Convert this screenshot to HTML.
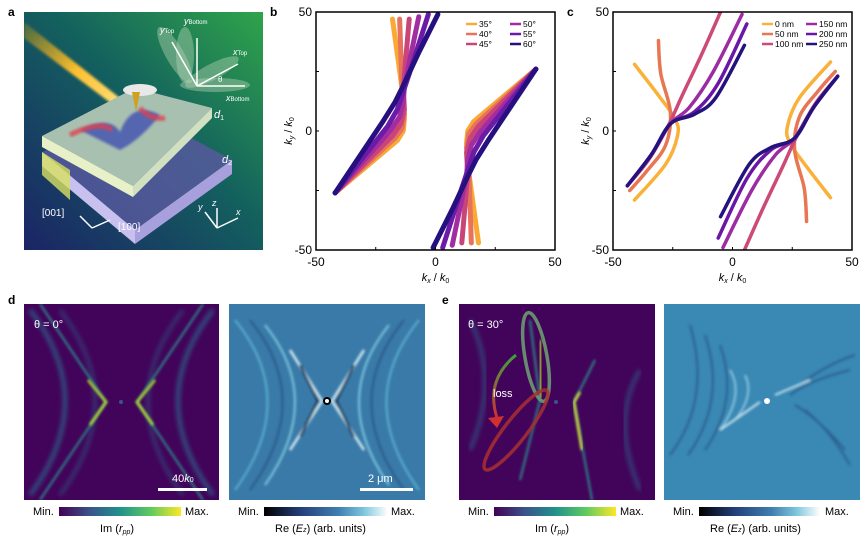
<!DOCTYPE html>
<html><head><meta charset="utf-8"><style>
body{margin:0;background:#fff;}
svg{display:block;font-family:"Liberation Sans",sans-serif;}
</style></head><body>
<svg id="fig" width="865" height="540" viewBox="0 0 865 540" xmlns="http://www.w3.org/2000/svg">
<defs>
<linearGradient id="bgA" x1="1" y1="0" x2="0" y2="1">
<stop offset="0" stop-color="#2fa44a"/><stop offset="0.45" stop-color="#13605e"/><stop offset="1" stop-color="#1b2466"/></linearGradient>
<linearGradient id="beam" x1="0" y1="0" x2="1" y2="1">
<stop offset="0" stop-color="#ffb000" stop-opacity="0.2"/><stop offset="0.5" stop-color="#ffc030"/><stop offset="1" stop-color="#ffe890"/></linearGradient>
<linearGradient id="vir" x1="0" x2="1"><stop offset="0" stop-color="#440154"/><stop offset="0.25" stop-color="#3b528b"/><stop offset="0.5" stop-color="#21918c"/><stop offset="0.75" stop-color="#5ec962"/><stop offset="1" stop-color="#fde725"/></linearGradient>
<linearGradient id="blu" x1="0" x2="1"><stop offset="0" stop-color="#000"/><stop offset="0.3" stop-color="#24407a"/><stop offset="0.6" stop-color="#3f7fb0"/><stop offset="0.8" stop-color="#7cc4dc"/><stop offset="1" stop-color="#fff"/></linearGradient>
<linearGradient id="arrowG" x1="0" y1="0" x2="0" y2="1"><stop offset="0" stop-color="#40a040"/><stop offset="1" stop-color="#d03030"/></linearGradient>
<filter id="bl1"><feGaussianBlur stdDeviation="1.2"/></filter>
<filter id="bl2"><feGaussianBlur stdDeviation="2.5"/></filter>
<clipPath id="cd1"><rect x="24" y="304" width="195" height="196"/></clipPath>
<clipPath id="cd2"><rect x="229" y="304" width="196" height="196"/></clipPath>
<clipPath id="ce1"><rect x="459" y="304" width="196" height="196"/></clipPath>
<clipPath id="ce2"><rect x="664" y="304" width="196" height="196"/></clipPath>
<clipPath id="cb"><rect x="316" y="12" width="239" height="238"/></clipPath>
<clipPath id="cc"><rect x="613" y="12" width="239" height="238"/></clipPath>
</defs>

<g>
<text x="8" y="16" font-size="12" font-weight="bold">a</text>
<rect x="24" y="12" width="239" height="238" fill="url(#bgA)"/>
<path d="M24,22 L135,110 L128,116 L24,38 Z" fill="url(#beam)" filter="url(#bl1)"/>
<polygon points="42,152 140,110 232,160 135,230" fill="#5a5aa0" opacity="0.8"/>
<polygon points="42,152 135,230 135,244 42,166" fill="#c8c0ee"/>
<polygon points="135,230 232,160 232,174 135,244" fill="#a8a0dc"/>
<polygon points="42,152 70,170 70,200 42,175" fill="#d8e060" opacity="0.8"/>
<polygon points="42,136 135,88 212,108 133,186" fill="#a8c0b0"/>
<polygon points="42,136 133,186 133,197 42,147" fill="#e8f0c8"/>
<polygon points="133,186 212,108 212,118 133,197" fill="#d0e0c0"/>
<path d="M80,130 Q110,115 120,132 Q132,100 160,115 Q140,140 120,150 Q100,140 80,130Z" fill="#3040b0" opacity="0.7" filter="url(#bl1)"/>
<path d="M70,135 Q100,120 112,130 M140,108 Q150,120 165,118" stroke="#e04050" stroke-width="5" fill="none" opacity="0.8" filter="url(#bl1)"/>
<ellipse cx="140" cy="90" rx="17" ry="6" fill="#e8e8e8"/>
<polygon points="132,92 140,92 136,112" fill="#d0a020"/>
<g fill="#fff">
<ellipse cx="185" cy="55" rx="9" ry="28" fill="#b0d0b0" opacity="0.45"/>
<ellipse cx="175" cy="55" rx="9" ry="32" fill="#b0d0b0" opacity="0.45" transform="rotate(-30 175 55)"/>
<ellipse cx="212" cy="72" rx="30" ry="8" fill="#b0d0b0" opacity="0.45" transform="rotate(-28 212 72)"/>
<ellipse cx="215" cy="85" rx="35" ry="7" fill="#b0d0b0" opacity="0.45"/>
<path d="M197,86 L197,38 M197,86 L245,86 M197,86 L172,42 M197,86 L238,64" stroke="#fff" stroke-width="1.5" fill="none"/>
<text x="184" y="24" font-size="9" font-style="italic">y<tspan font-size="6" font-style="normal">Bottom</tspan></text>
<text x="160" y="33" font-size="9" font-style="italic">y<tspan font-size="6" font-style="normal">Top</tspan></text>
<text x="233" y="55" font-size="9" font-style="italic">x<tspan font-size="6" font-style="normal">Top</tspan></text>
<text x="226" y="101" font-size="9" font-style="italic">x<tspan font-size="6" font-style="normal">Bottom</tspan></text>
<text x="218" y="82" font-size="8">θ</text>
</g>
<text x="214" y="118" font-size="11" font-style="italic" fill="#fff">d<tspan font-size="7" font-style="normal" dy="2">1</tspan></text>
<text x="222" y="163" font-size="11" font-style="italic" fill="#fff">d<tspan font-size="7" font-style="normal" dy="2">2</tspan></text>
<text x="42" y="216" font-size="10" fill="#fff">[001]</text>
<text x="118" y="230" font-size="10" fill="#fff">[100]</text>
<path d="M92,228 L80,216 M92,228 L110,220" stroke="#fff" stroke-width="1.5"/>
<g stroke="#fff" stroke-width="1.5"><path d="M217,228 L217,208 M217,228 L238,218 M217,228 L205,212"/></g>
<text x="212" y="206" font-size="9" font-style="italic" fill="#fff">z</text>
<text x="236" y="215" font-size="9" font-style="italic" fill="#fff">x</text>
<text x="198" y="210" font-size="9" font-style="italic" fill="#fff">y</text>
</g>

<g id="pb"></g>
<g id="pc"></g>

<g>
<text x="8" y="304" font-size="12" font-weight="bold">d</text>
<rect x="24" y="304" width="195" height="196" fill="#42045a"/>
<g clip-path="url(#cd1)" fill="none">
<path d="M30,310 Q100,400 30,495 M213,310 Q143,400 213,495" stroke="#2a6a8c" stroke-width="4" filter="url(#bl2)" opacity="0.8"/>
<path d="M60,310 Q130,400 60,495 M183,310 Q113,400 183,495" stroke="#2a6a8c" stroke-width="3" filter="url(#bl2)" opacity="0.6"/>
<path d="M40,304 L106,402 L40,500 M203,304 L137,402 L203,500" stroke="#2a8a8a" stroke-width="2" filter="url(#bl1)"/>
<path d="M88,380 L106,402 L90,425 M155,380 L137,402 L153,425" stroke="#b8de29" stroke-width="2.5" filter="url(#bl1)"/>
<circle cx="121" cy="402" r="2" fill="#3b528b"/>
</g>
<text x="34" y="328" font-size="11" fill="#fff">θ = 0°</text>
<rect x="158" y="488" width="49" height="3" fill="#fff"/>
<text x="172" y="482" font-size="11" fill="#fff">40<tspan font-style="italic">k</tspan><tspan font-size="7">0</tspan></text>
<rect x="229" y="304" width="196" height="196" fill="#3a7aa8"/>
<g clip-path="url(#cd2)" fill="none" filter="url(#bl1)">
<path d="M235,320 Q300,400 235,490 M419,320 Q354,400 419,490" stroke="#5ab0d0" stroke-width="2"/>
<path d="M250,320 Q315,400 250,490 M404,320 Q339,400 404,490" stroke="#2a5a8a" stroke-width="2"/>
<path d="M265,325 Q325,400 265,485 M389,325 Q329,400 389,485" stroke="#7cc8e0" stroke-width="2"/>
<path d="M290,350 L322,401 L290,450 M364,350 L332,401 L364,450" stroke="#d8f0f8" stroke-width="2.5"/>
<path d="M300,365 L318,401 L300,437 M354,365 L336,401 L354,437" stroke="#102040" stroke-width="2"/>
</g>
<circle cx="327" cy="401" r="4" fill="#000"/><circle cx="327" cy="401" r="2" fill="#fff"/>
<rect x="360" y="488" width="53" height="3" fill="#fff"/>
<text x="368" y="482" font-size="11" fill="#fff">2 μm</text>
<text x="33" y="515" font-size="11">Min.</text>
<rect x="59" y="507" width="122" height="9" fill="url(#vir)"/>
<text x="185" y="515" font-size="11">Max.</text>
<text x="100" y="532" font-size="11">Im (<tspan font-style="italic">r</tspan><tspan font-size="7" font-style="italic" dy="2">pp</tspan><tspan dy="-2">)</tspan></text>
<text x="238" y="515" font-size="11">Min.</text>
<rect x="264" y="507" width="124" height="9" fill="url(#blu)"/>
<text x="391" y="515" font-size="11">Max.</text>
<text x="275" y="532" font-size="11">Re (<tspan font-style="italic">E<tspan font-size="7">z</tspan></tspan>) (arb. units)</text>
</g>

<g>
<text x="442" y="304" font-size="12" font-weight="bold">e</text>
<rect x="459" y="304" width="196" height="196" fill="#42045a"/>
<g clip-path="url(#ce1)" fill="none">
<path d="M470,320 Q500,380 470,450" stroke="#2a6a8c" stroke-width="4" filter="url(#bl2)" opacity="0.6"/>
<path d="M640,370 Q610,420 640,490" stroke="#2a6a8c" stroke-width="4" filter="url(#bl2)" opacity="0.6"/>
<path d="M530,320 L540,400 L520,480" stroke="#2a8a8a" stroke-width="2" filter="url(#bl1)"/>
<path d="M595,360 L574,402 L592,500" stroke="#2a8a8a" stroke-width="2" filter="url(#bl1)"/>
<path d="M540,340 L541,398" stroke="#b8de29" stroke-width="2.5" filter="url(#bl1)"/>
<path d="M580,392 L574,402 L582,450" stroke="#d8e030" stroke-width="2.5" filter="url(#bl1)"/>
</g>
<circle cx="556" cy="402" r="2" fill="#3b528b"/>
<ellipse cx="536" cy="357" rx="11" ry="45" fill="none" stroke="#6a9a70" stroke-width="3.5" opacity="0.9" transform="rotate(-10 536 357)"/>
<ellipse cx="516" cy="430" rx="11" ry="50" fill="none" stroke="#a83030" stroke-width="3.5" opacity="0.85" transform="rotate(38 516 430)"/>
<path d="M516,355 Q485,380 497,418" fill="none" stroke="url(#arrowG)" stroke-width="3"/>
<polygon points="488,418 504,416 497,428" fill="#d03030"/>
<text x="493" y="397" font-size="11" fill="#fff">loss</text>
<text x="468" y="328" font-size="11" fill="#fff">θ = 30°</text>
<rect x="664" y="304" width="196" height="196" fill="#3a88b4"/>
<g clip-path="url(#ce2)" fill="none" filter="url(#bl1)" opacity="0.85">
<path d="M690,325 Q712,400 670,455 M705,335 Q727,400 688,455 M720,345 Q740,400 705,450" stroke="#2a5a8a" stroke-width="2"/>
<path d="M730,370 Q745,395 720,430 M745,375 Q755,395 735,420" stroke="#9ad0e8" stroke-width="2"/>
<path d="M790,395 Q810,380 850,370 M800,385 Q825,365 855,355 M795,405 Q820,420 845,450 M805,410 Q830,430 850,465" stroke="#2a5a8a" stroke-width="2"/>
<path d="M720,430 L760,402 M775,395 L810,380" stroke="#e0f4fa" stroke-width="2"/>
</g>
<circle cx="767" cy="401" r="3" fill="#fff"/>
<text x="468" y="515" font-size="11">Min.</text>
<rect x="494" y="507" width="122" height="9" fill="url(#vir)"/>
<text x="620" y="515" font-size="11">Max.</text>
<text x="535" y="532" font-size="11">Im (<tspan font-style="italic">r</tspan><tspan font-size="7" font-style="italic" dy="2">pp</tspan><tspan dy="-2">)</tspan></text>
<text x="673" y="515" font-size="11">Min.</text>
<rect x="699" y="507" width="121" height="9" fill="url(#blu)"/>
<text x="825" y="515" font-size="11">Max.</text>
<text x="710" y="532" font-size="11">Re (<tspan font-style="italic">E<tspan font-size="7">z</tspan></tspan>) (arb. units)</text>
</g>
</svg>
<script>
const bLabels = ["35°","40°","45°","50°","55°","60°"];
const bColors = ["#f9a934","#e8735c","#c94478","#a12da0","#6c1aa8","#26107f"];
const b35 = [[-42,-26],[-16,-4],[-13.5,0],[-13,5],[-14,18],[-18,47]];
const b40 = [[-42,-26],[-17,-3],[-14,1],[-13,7],[-14,18],[-15,47]];
const b45 = [[-42,-26],[-18,-2],[-14.5,3],[-13,9],[-13.5,18],[-11,47]];
const b50 = [[-42,-26],[-19,0],[-15,6],[-13.5,12],[-13,19],[-7,48]];
const b55 = [[-42,-26],[-20,2],[-16,9],[-14,15],[-11,24],[-3,49]];
const b60 = [[-42,-26],[-22,4],[-17,12],[-14,18],[-7,33],[1,49]];
const bSeries = [b35,b40,b45,b50,b55,b60];
const cLabels = ["0 nm","50 nm","100 nm","150 nm","200 nm","250 nm"];
const cColors = ["#f9b13a","#e77652","#cc4a76","#9c2ca2","#6a17a8","#24137e"];
const c0 = [[-41,28],[-31,15],[-24,5],[-23,-2],[-28,-14],[-41,-29]];
const c50 = [[-31,38],[-30,24],[-26,8],[-28,-6],[-36,-17],[-43,-25]];
const c100 = [[-44,-23],[-35,-12],[-27,2],[-21,15],[-13,32],[-5,50]];
const c150 = [[-44,-23],[-34,-10],[-26,3],[-18,10],[-8,25],[4,49]];
const c200 = [[-44,-23],[-34,-10],[-26,3],[-16,8],[-6,20],[6,45]];
const c250 = [[-44,-23],[-34,-10],[-26,3],[-16,7],[-7,14],[5,36]];
const cSeries = [c0,c50,c100,c150,c200,c250];
const ticks = [-50,0,50];
const NS="http://www.w3.org/2000/svg";
function mk(t,a,p){const e=document.createElementNS(NS,t);for(const k in a)e.setAttribute(k,a[k]);p.appendChild(e);return e;}
function smooth(pts){let d="M"+pts[0][0]+","+pts[0][1];for(let i=0;i<pts.length-1;i++){const p0=pts[i-1]||pts[i],p1=pts[i],p2=pts[i+1],p3=pts[i+2]||p2;
d+=" C"+(p1[0]+(p2[0]-p0[0])/6)+","+(p1[1]+(p2[1]-p0[1])/6)+" "+(p2[0]-(p3[0]-p1[0])/6)+","+(p2[1]-(p3[1]-p1[1])/6)+" "+p2[0]+","+p2[1];}return d;}
function poly(pts){return "M"+pts.map(p=>p[0]+","+p[1]).join(" L");}
function panel(g,x0,label,series,colors,labels,clip,sw,legX,useSmooth){
  const y0=12,w=239,h=238;
  const sx=v=>x0+(v+50)/100*w, sy=v=>y0+h-(v+50)/100*h;
  const lab=mk("text",{x:x0-46,y:16,"font-size":12,"font-weight":"bold"},g);lab.textContent=label;
  
  
  const cg=mk("g",{"clip-path":"url(#"+clip+")"},g);
  series.forEach((s,i)=>{
    [s, s.map(p=>[-p[0],-p[1]])].forEach((br,j)=>{
      const pts=br.map(q=>[sx(q[0]),sy(q[1])]);
      const p=mk("path",{d:useSmooth?smooth(pts):poly(pts),fill:"none",stroke:colors[i],"stroke-width":sw,"stroke-linecap":"round","stroke-linejoin":"round"},cg);
      
      
    });
  });
  const fr=mk("rect",{x:x0,y:y0,width:w,height:h,fill:"none",stroke:"#000","stroke-width":1.5},g);
  
  
  [-50,-25,0,25,50].forEach(t=>{
    mk("line",{x1:sx(t),x2:sx(t),y1:y0+h,y2:y0+h-3,stroke:"#000"},g);
    mk("line",{x1:x0,x2:x0+3,y1:sy(t),y2:sy(t),stroke:"#000"},g);
  });
  ticks.forEach(t=>{
    const tx=mk("text",{x:sx(t),y:y0+h+16,"font-size":12,"text-anchor":"middle"},g);tx.textContent=t;
    
    
    const ty=mk("text",{x:x0-4,y:sy(t)+4,"font-size":12,"text-anchor":"end"},g);ty.textContent=t;
    
    
  });
  const xt=mk("text",{x:x0+w/2,y:y0+h+31,"font-size":11,"text-anchor":"middle","font-style":"italic"},g);
  xt.innerHTML='k<tspan font-size="7" dy="2">x</tspan><tspan dy="-2" font-style="normal"> / </tspan>k<tspan font-size="7" dy="2" font-style="normal">0</tspan>';
  
  
  const yt=mk("text",{x:0,y:0,"font-size":11,"text-anchor":"middle","font-style":"italic",transform:"translate("+(x0-24)+","+(y0+h/2)+") rotate(-90)"},g);
  yt.innerHTML='k<tspan font-size="7" dy="2">y</tspan><tspan dy="-2" font-style="normal"> / </tspan>k<tspan font-size="7" dy="2" font-style="normal">0</tspan>';
  
  
  labels.forEach((l,i)=>{
    const col=Math.floor(i/3),row=i%3,lx=legX+col*44,ly=24+row*10;
    const le=mk("g",{},g);
    
    
    mk("line",{x1:lx,x2:lx+11,y1:ly,y2:ly,stroke:colors[i],"stroke-width":2.5},le);
    const t=mk("text",{x:lx+13,y:ly+3,"font-size":8.5},le);t.textContent=l;
  });
}
panel(document.getElementById("pb"),316,"b",bSeries,bColors,bLabels,"cb",5,466,false);
panel(document.getElementById("pc"),613,"c",cSeries,cColors,cLabels,"cc",3.5,762,true);
</script>
</body></html>
